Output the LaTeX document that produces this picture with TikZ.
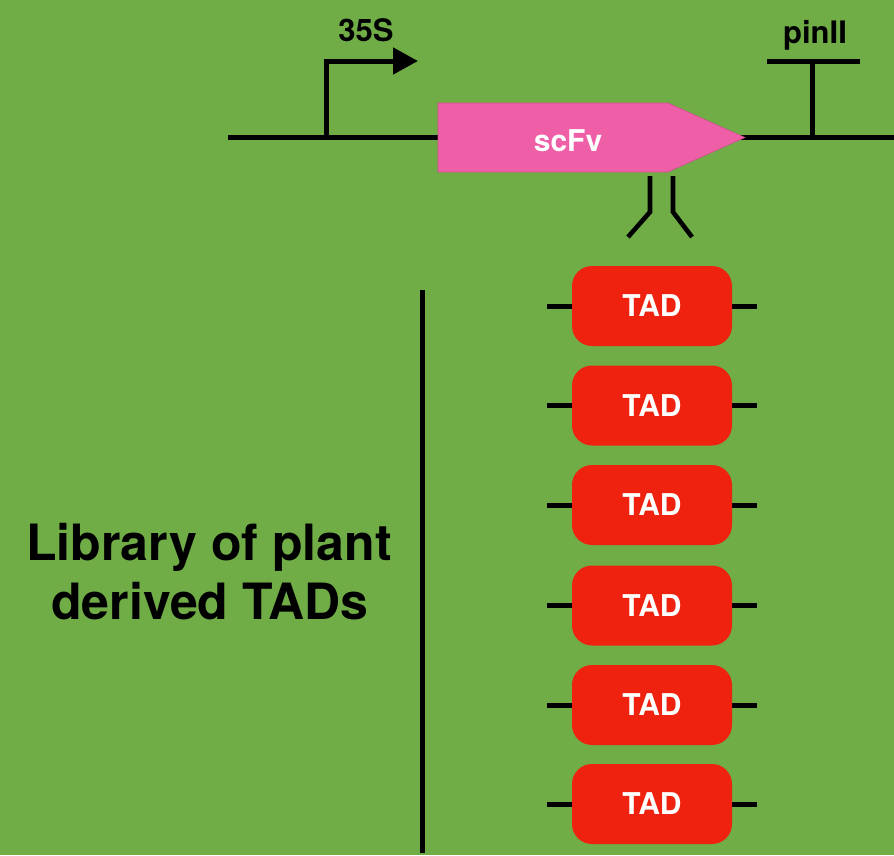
\documentclass[tikz,border=0pt]{standalone}
\usepackage{fontspec}
\setmainfont{TeX Gyre Heros}
\usetikzlibrary{arrows.meta}
\definecolor{bggreen}{HTML}{70AD47}
\definecolor{scfvpink}{HTML}{EF5FA7}
\definecolor{tadred}{HTML}{EE220F}
\tikzset{
  dna/.style={line width=5pt, black},
  tadbox/.style={draw=none, fill=tadred, rounded corners=20pt,
    minimum width=160pt, minimum height=80pt, inner sep=0pt,
    text=white, font=\bfseries\fontsize{30}{34}\selectfont},
  tag/.style={font=\bfseries\fontsize{#1}{#1}\selectfont, inner sep=0pt, anchor=base},
  tag/.default=31
}
\begin{document}
\begin{tikzpicture}[x=1pt,y=-1pt]
  \fill[bggreen] (0,0) rectangle (894,855);
  \useasboundingbox (0,0) rectangle (894,855);

  % backbone of the construct
  \coordinate (lineL) at (228,137);
  \coordinate (lineR) at (894,137);
  \draw[dna] (lineL) -- (lineR);

  % 35S promoter with transcription arrow
  \coordinate (promB) at (326,137);
  \coordinate (promT) at (326,61);
  \coordinate (promA) at (418,61);
  \draw[dna, miter limit=10, -{Triangle[length=25pt,width=26pt]}] (promB) -- (promT) -- (promA);
  \node[tag] (p35s) at (366,41) {35S};

  % pinII terminator
  \coordinate (termB) at (812,137);
  \coordinate (termT) at (812,61);
  \coordinate (termL) at (767,61);
  \coordinate (termR) at (860,61);
  \draw[dna] (termB) -- (termT);
  \draw[dna] (termL) -- (termR);
  \node[tag] (pin) at (815,43) {pinII};

  % scFv coding block
  \fill[scfvpink, draw=scfvpink!85!black, line width=0.6pt]
    (438,103) -- (668,103) -- (745,137.5) -- (668,172) -- (438,172) -- cycle;
  \node[tag=30, text=white] (scfv) at (568,151) {scFv};

  % antibody fork under the scFv
  \coordinate (abL1) at (650,176); \coordinate (abL2) at (650,212); \coordinate (abL3) at (628,237);
  \coordinate (abR1) at (673,176); \coordinate (abR2) at (673,212); \coordinate (abR3) at (692,237);
  \draw[dna, line width=4.6pt] (abL1) -- (abL2) -- (abL3);
  \draw[dna, line width=4.6pt] (abR1) -- (abR2) -- (abR3);

  % divider
  \coordinate (divT) at (422,290);
  \coordinate (divB) at (422,853);
  \draw[dna] (divT) -- (divB);

  % library label
  \node[tag=50] (lib1) at (209,560) {Library of plant};
  \node[tag=50] (lib2) at (210,619) {derived TADs};

  % TAD library
  \foreach \i/\yy in {1/306,2/405.5,3/505,4/605.5,5/705,6/804}{
    \coordinate (tl\i) at (547,\yy);
    \coordinate (tr\i) at (757,\yy);
    \draw[dna] (tl\i) -- (tr\i);
    \node[tadbox] (tad\i) at (652,\yy) {TAD};
  }
\end{tikzpicture}
\end{document}
